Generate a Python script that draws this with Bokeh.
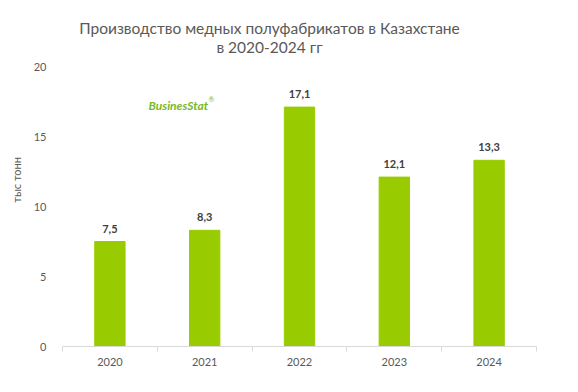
from bokeh.plotting import figure
from bokeh.models import Range1d, FixedTicker, Label, ColumnDataSource, LinearAxis
from bokeh.core.properties import value
from bokeh.embed import file_html
from bokeh.resources import INLINE

years = ["2020", "2021", "2022", "2023", "2024"]
values = [7.5, 8.3, 17.1, 12.1, 13.3]
value_labels = ["7,5", "8,3", "17,1", "12,1", "13,3"]
y_ticks = [0, 5, 10, 15, 20]
title_lines = ["Производство медных полуфабрикатов в Казахстане", "в 2020-2024 гг"]
y_label = "тыс  тонн"

xs = [i + 0.5 for i in range(len(years))]
src = ColumnDataSource(dict(x=xs, top=values, lab=value_labels))

FONT = "Lato"
# frame extends above the 20 tick so that the title fits inside it
p = figure(width=570, height=383, output_backend="svg", toolbar_location=None,
           x_range=Range1d(0, len(years)), y_range=Range1d(0, 24),
           min_border_left=62, min_border_right=34, min_border_top=10, min_border_bottom=37,
           x_axis_type=None)
p.outline_line_color = None
p.xgrid.visible = False
p.ygrid.visible = False

p.vbar(x="x", top="top", width=0.32, source=src, color="#99cc00")
p.text(x="x", y="top", text="lab", source=src, text_align="center", text_baseline="bottom",
       y_offset=-9, text_font_size="11px", text_font_style="bold", text_color="#404040",
       text_font=value(FONT))

xa = LinearAxis(ticker=FixedTicker(ticks=xs, minor_ticks=list(range(len(years) + 1))),
                major_label_overrides={x: y for x, y in zip(xs, years)})
xa.major_tick_out = 0
xa.major_tick_in = 0
xa.minor_tick_out = 5
xa.minor_tick_in = 0
xa.axis_line_color = "#d9d9d9"
xa.minor_tick_line_color = "#d9d9d9"
xa.major_label_text_font = FONT
xa.major_label_text_font_size = "11px"
xa.major_label_text_color = "#595959"
xa.major_label_standoff = 6
p.add_layout(xa, "below")

ya = p.yaxis[0]
ya.ticker = FixedTicker(ticks=y_ticks)
ya.axis_line_color = None
ya.major_tick_line_color = None
ya.minor_tick_line_color = None
ya.major_label_text_font = FONT
ya.major_label_text_font_size = "11px"
ya.major_label_text_color = "#595959"
ya.major_label_standoff = 10
ya.axis_label = y_label
ya.axis_label_text_font = FONT
ya.axis_label_text_font_size = "11px"
ya.axis_label_text_font_style = "normal"
ya.axis_label_text_color = "#595959"
ya.axis_label_standoff = 8

# Label screen units are relative to the plot frame (x from left, y from bottom)
for i, t in enumerate(title_lines):
    p.add_layout(Label(x=207, y=319 - i * 19, x_units="screen", y_units="screen",
                       text=t, text_align="center", text_baseline="middle",
                       text_font=FONT, text_font_size="15.5px", text_color="#595959"))

p.add_layout(Label(x=86, y=241, x_units="screen", y_units="screen",
                   text="BusinesStat", text_align="left", text_baseline="middle",
                   text_font=FONT, text_font_size="12px", text_font_style="bold italic",
                   text_color="#77b82a"))
p.add_layout(Label(x=146, y=248, x_units="screen", y_units="screen",
                   text="®", text_align="left", text_baseline="middle",
                   text_font=FONT, text_font_size="7px", text_color="#77b82a"))

open("out.html", "w").write(file_html(p, INLINE))
